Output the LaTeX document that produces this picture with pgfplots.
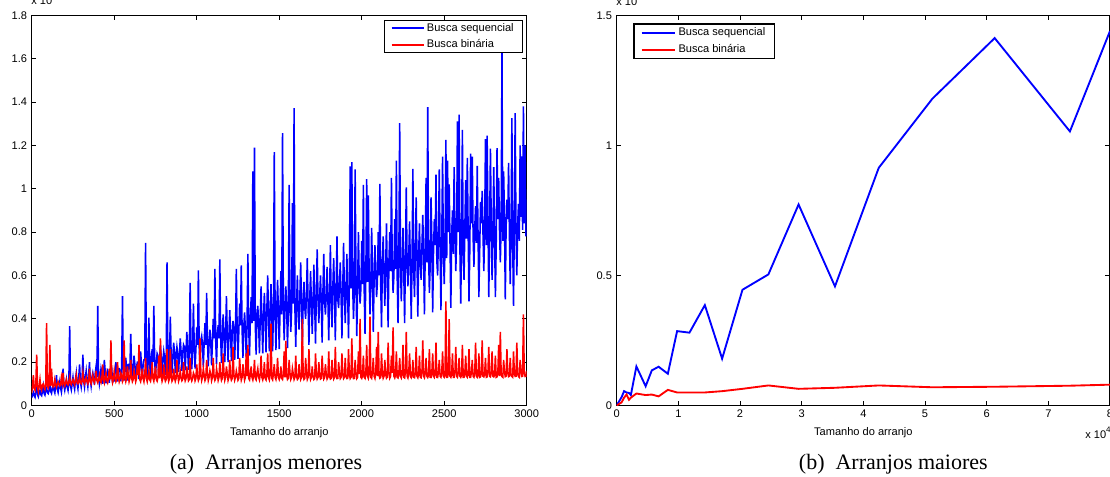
\documentclass[border=0pt]{standalone}
\usepackage{pgfplots}
\pgfplotsset{compat=1.18}
\usepackage{pgfplotstable}
\usepackage{fontspec}
\setmainfont{Liberation Sans}
\newfontfamily\capfont{Liberation Serif}

\pgfplotstableread[row sep=\\]{
x b r\\
0 0.035 0.06\\ 5 0.05 0.09\\ 10 0.06 0.14\\ 15 0.045 0.08\\ 20 0.038 0.07\\ 25 0.07 0.10\\ 30 0.13 0.235\\ 35 0.05 0.085\\ 40 0.04 0.065\\ 45 0.06 0.09\\ 50 0.07 0.12\\ 55 0.05 0.08\\ 60 0.045 0.07\\ 65 0.065 0.095\\ 70 0.09 0.10\\ 75 0.055 0.085\\ 80 0.048 0.075\\ 85 0.07 0.10\\ 90 0.08 0.38\\ 95 0.06 0.09\\
100 0.055 0.08\\ 105 0.07 0.095\\ 110 0.10 0.28\\ 115 0.065 0.09\\ 120 0.056 0.17\\ 125 0.08 0.10\\ 130 0.09 0.085\\ 135 0.07 0.09\\ 140 0.058 0.12\\ 145 0.09 0.10\\ 150 0.14 0.085\\ 155 0.075 0.095\\ 160 0.06 0.11\\ 165 0.085 0.10\\ 170 0.11 0.09\\ 175 0.08 0.095\\ 180 0.062 0.13\\ 185 0.10 0.105\\ 190 0.17 0.15\\ 195 0.09 0.10\\
200 0.07 0.09\\ 205 0.095 0.105\\ 210 0.12 0.12\\ 215 0.085 0.10\\ 220 0.07 0.095\\ 225 0.11 0.11\\ 230 0.366 0.13\\ 235 0.09 0.10\\ 240 0.072 0.095\\ 245 0.10 0.11\\ 250 0.13 0.12\\ 255 0.095 0.105\\ 260 0.075 0.095\\ 265 0.12 0.115\\ 270 0.15 0.14\\ 275 0.10 0.105\\ 280 0.078 0.10\\ 285 0.13 0.11\\ 290 0.19 0.13\\ 295 0.11 0.105\\
300 0.085 0.10\\ 305 0.12 0.115\\ 310 0.235 0.15\\ 315 0.11 0.11\\ 320 0.085 0.10\\ 325 0.13 0.12\\ 330 0.16 0.13\\ 335 0.115 0.11\\ 340 0.088 0.10\\ 345 0.14 0.115\\ 350 0.20 0.17\\ 355 0.12 0.11\\ 360 0.09 0.10\\ 365 0.13 0.12\\ 370 0.15 0.14\\ 375 0.125 0.115\\ 380 0.095 0.105\\ 385 0.15 0.125\\ 390 0.18 0.16\\ 395 0.13 0.115\\
400 0.46 0.105\\ 405 0.14 0.12\\ 410 0.10 0.14\\ 415 0.13 0.115\\ 420 0.17 0.105\\ 425 0.15 0.125\\ 430 0.10 0.19\\ 435 0.135 0.12\\ 440 0.21 0.105\\ 445 0.16 0.13\\ 450 0.102 0.15\\ 455 0.14 0.115\\ 460 0.16 0.105\\ 465 0.15 0.125\\ 470 0.105 0.17\\ 475 0.145 0.12\\ 480 0.19 0.30\\ 485 0.17 0.13\\ 490 0.105 0.105\\ 495 0.15 0.12\\
500 0.11 0.16\\ 505 0.16 0.13\\ 510 0.20 0.11\\ 515 0.15 0.12\\ 520 0.11 0.20\\ 525 0.17 0.135\\ 530 0.17 0.11\\ 535 0.155 0.125\\ 540 0.112 0.15\\ 545 0.18 0.14\\ 550 0.505 0.11\\ 555 0.16 0.12\\ 560 0.115 0.30\\ 565 0.17 0.13\\ 570 0.22 0.11\\ 575 0.165 0.125\\ 580 0.115 0.18\\ 585 0.19 0.14\\ 590 0.19 0.11\\ 595 0.17 0.125\\
600 0.33 0.21\\ 605 0.18 0.13\\ 610 0.12 0.11\\ 615 0.17 0.12\\ 620 0.23 0.16\\ 625 0.19 0.135\\ 630 0.12 0.11\\ 635 0.175 0.125\\ 640 0.20 0.19\\ 645 0.20 0.14\\ 650 0.122 0.28\\ 655 0.18 0.12\\ 660 0.25 0.11\\ 665 0.19 0.13\\ 670 0.125 0.17\\ 675 0.185 0.125\\ 680 0.21 0.11\\ 685 0.21 0.14\\ 690 0.75 0.22\\ 695 0.19 0.125\\
700 0.13 0.11\\ 705 0.20 0.13\\ 710 0.405 0.16\\ 715 0.19 0.12\\ 720 0.13 0.112\\ 725 0.22 0.135\\ 730 0.26 0.20\\ 735 0.20 0.125\\ 740 0.46 0.112\\ 745 0.21 0.14\\ 750 0.132 0.18\\ 755 0.20 0.12\\ 760 0.24 0.112\\ 765 0.23 0.13\\ 770 0.135 0.23\\ 775 0.21 0.125\\ 780 0.28 0.31\\ 785 0.22 0.14\\ 790 0.138 0.112\\ 795 0.21 0.125\\
800 0.25 0.19\\ 805 0.22 0.13\\ 810 0.14 0.112\\ 815 0.21 0.12\\ 820 0.66 0.26\\ 825 0.24 0.135\\ 830 0.145 0.112\\ 835 0.22 0.125\\ 840 0.41 0.26\\ 845 0.23 0.14\\ 850 0.148 0.112\\ 855 0.22 0.12\\ 860 0.29 0.17\\ 865 0.25 0.13\\ 870 0.15 0.112\\ 875 0.23 0.125\\ 880 0.27 0.21\\ 885 0.24 0.14\\ 890 0.155 0.112\\ 895 0.23 0.125\\
900 0.31 0.16\\ 905 0.25 0.13\\ 910 0.16 0.114\\ 915 0.24 0.12\\ 920 0.28 0.20\\ 925 0.27 0.135\\ 930 0.162 0.114\\ 935 0.25 0.125\\ 940 0.34 0.18\\ 945 0.26 0.14\\ 950 0.165 0.114\\ 955 0.25 0.12\\ 960 0.566 0.22\\ 965 0.28 0.13\\ 970 0.168 0.114\\ 975 0.26 0.125\\ 980 0.47 0.15\\ 985 0.27 0.14\\ 990 0.17 0.114\\ 995 0.26 0.125\\
1000 0.36 0.19\\ 1005 0.28 0.135\\ 1010 0.623 0.115\\ 1015 0.27 0.125\\ 1020 0.175 0.31\\ 1025 0.30 0.145\\ 1030 0.32 0.115\\ 1035 0.28 0.13\\ 1040 0.178 0.17\\ 1045 0.29 0.14\\ 1050 0.38 0.115\\ 1055 0.28 0.125\\ 1060 0.52 0.21\\ 1065 0.31 0.15\\ 1070 0.18 0.115\\ 1075 0.29 0.13\\ 1080 0.35 0.16\\ 1085 0.30 0.145\\ 1090 0.185 0.115\\ 1095 0.29 0.13\\
1100 0.40 0.22\\ 1105 0.31 0.135\\ 1110 0.63 0.116\\ 1115 0.30 0.125\\ 1120 0.19 0.17\\ 1125 0.33 0.145\\ 1130 0.37 0.116\\ 1135 0.31 0.13\\ 1140 0.674 0.20\\ 1145 0.32 0.14\\ 1150 0.195 0.116\\ 1155 0.31 0.125\\ 1160 0.42 0.24\\ 1165 0.34 0.15\\ 1170 0.20 0.116\\ 1175 0.32 0.13\\ 1180 0.505 0.18\\ 1185 0.33 0.145\\ 1190 0.20 0.116\\ 1195 0.32 0.13\\
1200 0.44 0.21\\ 1205 0.34 0.135\\ 1210 0.205 0.117\\ 1215 0.33 0.125\\ 1220 0.39 0.27\\ 1225 0.36 0.145\\ 1230 0.21 0.117\\ 1235 0.34 0.13\\ 1240 0.63 0.16\\ 1245 0.35 0.14\\ 1250 0.215 0.117\\ 1255 0.34 0.125\\ 1260 0.47 0.22\\ 1265 0.37 0.15\\ 1270 0.646 0.117\\ 1275 0.35 0.13\\ 1280 0.22 0.19\\ 1285 0.36 0.145\\ 1290 0.43 0.117\\ 1295 0.35 0.13\\
1300 0.225 0.24\\ 1305 0.37 0.135\\ 1310 0.70 0.28\\ 1315 0.36 0.125\\ 1320 0.23 0.118\\ 1325 0.40 0.145\\ 1330 0.50 0.18\\ 1335 0.38 0.13\\ 1340 1.08 0.118\\ 1345 0.39 0.14\\ 1350 1.19 0.21\\ 1355 0.37 0.125\\ 1360 0.235 0.118\\ 1365 0.41 0.15\\ 1370 0.46 0.17\\ 1375 0.38 0.13\\ 1380 0.24 0.118\\ 1385 0.40 0.145\\ 1390 0.55 0.23\\ 1395 0.39 0.13\\
1400 0.24 0.118\\ 1405 0.41 0.135\\ 1410 0.52 0.20\\ 1415 0.40 0.125\\ 1420 0.245 0.118\\ 1425 0.44 0.145\\ 1430 0.60 0.24\\ 1435 0.42 0.13\\ 1440 0.25 0.118\\ 1445 0.43 0.14\\ 1450 0.56 0.378\\ 1455 0.41 0.125\\ 1460 0.25 0.118\\ 1465 0.45 0.15\\ 1470 1.169 0.19\\ 1475 0.42 0.13\\ 1480 0.255 0.12\\ 1485 0.44 0.145\\ 1490 0.58 0.22\\ 1495 0.43 0.13\\
1500 0.26 0.12\\ 1505 0.44 0.135\\ 1510 0.62 0.18\\ 1515 0.42 0.125\\ 1520 1.257 0.12\\ 1525 0.47 0.145\\ 1530 0.30 0.25\\ 1535 0.45 0.13\\ 1540 0.55 0.298\\ 1545 0.46 0.14\\ 1550 0.265 0.12\\ 1555 0.43 0.125\\ 1560 1.018 0.21\\ 1565 0.48 0.15\\ 1570 0.34 0.12\\ 1575 0.44 0.13\\ 1580 0.934 0.17\\ 1585 0.47 0.145\\ 1590 1.372 0.12\\ 1595 0.45 0.13\\
1600 0.27 0.23\\ 1605 0.46 0.135\\ 1610 0.60 0.12\\ 1615 0.44 0.125\\ 1620 0.35 0.19\\ 1625 0.50 0.145\\ 1630 0.66 0.12\\ 1635 0.47 0.13\\ 1640 0.28 0.40\\ 1645 0.48 0.14\\ 1650 0.57 0.12\\ 1655 0.45 0.125\\ 1660 0.40 0.22\\ 1665 0.51 0.15\\ 1670 0.68 0.12\\ 1675 0.46 0.13\\ 1680 0.28 0.26\\ 1685 0.49 0.145\\ 1690 0.62 0.12\\ 1695 0.47 0.13\\
1700 0.33 0.18\\ 1705 0.48 0.135\\ 1710 0.65 0.12\\ 1715 0.46 0.125\\ 1720 0.285 0.24\\ 1725 0.52 0.145\\ 1730 0.72 0.122\\ 1735 0.49 0.13\\ 1740 0.38 0.20\\ 1745 0.50 0.14\\ 1750 0.60 0.122\\ 1755 0.47 0.125\\ 1760 0.29 0.23\\ 1765 0.53 0.15\\ 1770 0.70 0.122\\ 1775 0.48 0.13\\ 1780 0.42 0.19\\ 1785 0.51 0.145\\ 1790 0.64 0.122\\ 1795 0.49 0.13\\
1800 0.30 0.25\\ 1805 0.50 0.135\\ 1810 0.74 0.122\\ 1815 0.48 0.125\\ 1820 0.36 0.21\\ 1825 0.55 0.145\\ 1830 0.68 0.122\\ 1835 0.51 0.13\\ 1840 0.30 0.27\\ 1845 0.53 0.14\\ 1850 0.78 0.124\\ 1855 0.49 0.125\\ 1860 0.45 0.20\\ 1865 0.56 0.15\\ 1870 0.66 0.124\\ 1875 0.50 0.13\\ 1880 0.31 0.24\\ 1885 0.54 0.145\\ 1890 0.75 0.124\\ 1895 0.52 0.13\\
1900 0.38 0.22\\ 1905 0.53 0.135\\ 1910 0.70 0.124\\ 1915 0.50 0.125\\ 1920 0.31 0.26\\ 1925 0.58 0.145\\ 1930 1.103 0.124\\ 1935 0.54 0.13\\ 1940 1.123 0.31\\ 1945 0.56 0.14\\ 1950 0.40 0.124\\ 1955 0.52 0.125\\ 1960 1.09 0.21\\ 1965 0.60 0.15\\ 1970 0.32 0.124\\ 1975 0.55 0.13\\ 1980 0.80 0.25\\ 1985 0.57 0.145\\ 1990 0.47 0.40\\ 1995 0.54 0.13\\
2000 0.76 0.125\\ 2005 0.56 0.14\\ 2010 1.018 0.23\\ 2015 0.53 0.13\\ 2020 0.33 0.125\\ 2025 0.61 0.15\\ 2030 1.045 0.28\\ 2035 0.57 0.135\\ 2040 0.97 0.125\\ 2045 0.60 0.145\\ 2050 0.42 0.41\\ 2055 0.55 0.13\\ 2060 0.82 0.125\\ 2065 0.63 0.155\\ 2070 0.34 0.22\\ 2075 0.58 0.135\\ 2080 0.74 0.125\\ 2085 0.62 0.15\\ 2090 0.50 0.27\\ 2095 0.57 0.135\\
2100 0.80 0.34\\ 2105 0.60 0.14\\ 2110 1.023 0.126\\ 2115 0.56 0.13\\ 2120 0.36 0.24\\ 2125 0.65 0.15\\ 2130 0.78 0.126\\ 2135 0.61 0.135\\ 2140 0.46 0.21\\ 2145 0.63 0.145\\ 2150 0.84 0.126\\ 2155 0.58 0.13\\ 2160 0.36 0.29\\ 2165 0.67 0.155\\ 2170 0.80 0.126\\ 2175 0.62 0.135\\ 2180 1.05 0.23\\ 2185 0.66 0.15\\ 2190 0.52 0.36\\ 2195 0.60 0.135\\
2200 0.86 0.127\\ 2205 0.63 0.14\\ 2210 1.13 0.25\\ 2215 0.59 0.13\\ 2220 0.38 0.127\\ 2225 0.68 0.15\\ 2230 1.303 0.22\\ 2235 0.64 0.135\\ 2240 0.48 0.127\\ 2245 0.66 0.145\\ 2250 0.82 0.28\\ 2255 0.61 0.13\\ 2260 0.38 0.127\\ 2265 0.70 0.155\\ 2270 1.006 0.34\\ 2275 0.65 0.135\\ 2280 0.55 0.127\\ 2285 0.69 0.15\\ 2290 0.85 0.24\\ 2295 0.63 0.135\\
2300 0.40 0.128\\ 2305 0.66 0.14\\ 2310 1.092 0.21\\ 2315 0.62 0.13\\ 2320 0.50 0.128\\ 2325 0.72 0.15\\ 2330 0.96 0.27\\ 2335 0.67 0.135\\ 2340 0.41 0.128\\ 2345 0.70 0.145\\ 2350 0.84 0.23\\ 2355 0.64 0.13\\ 2360 0.58 0.128\\ 2365 0.74 0.155\\ 2370 0.88 0.30\\ 2375 0.68 0.135\\ 2380 0.42 0.128\\ 2385 0.72 0.15\\ 2390 1.05 0.22\\ 2395 0.66 0.135\\
2400 1.377 0.129\\ 2405 0.70 0.14\\ 2410 0.52 0.26\\ 2415 0.65 0.13\\ 2420 0.96 0.129\\ 2425 0.76 0.15\\ 2430 0.43 0.24\\ 2435 0.71 0.135\\ 2440 0.86 0.129\\ 2445 0.74 0.145\\ 2450 1.065 0.29\\ 2455 0.67 0.13\\ 2460 0.60 0.129\\ 2465 0.78 0.155\\ 2470 1.09 0.21\\ 2475 0.72 0.135\\ 2480 0.44 0.13\\ 2485 0.76 0.15\\ 2490 1.149 0.25\\ 2495 0.70 0.135\\
2500 0.56 0.13\\ 2505 0.74 0.14\\ 2510 1.226 0.48\\ 2515 0.68 0.13\\ 2520 1.13 0.13\\ 2525 0.80 0.15\\ 2530 1.02 0.398\\ 2535 0.75 0.135\\ 2540 0.45 0.13\\ 2545 0.78 0.145\\ 2550 0.90 0.24\\ 2555 0.70 0.13\\ 2560 1.10 0.13\\ 2565 0.82 0.155\\ 2570 0.62 0.27\\ 2575 0.76 0.135\\ 2580 1.311 0.13\\ 2585 0.80 0.15\\ 2590 1.342 0.22\\ 2595 0.73 0.135\\
2600 0.47 0.13\\ 2605 0.76 0.14\\ 2610 1.272 0.28\\ 2615 0.70 0.13\\ 2620 0.58 0.13\\ 2625 0.82 0.15\\ 2630 1.04 0.23\\ 2635 0.77 0.135\\ 2640 1.143 0.13\\ 2645 0.80 0.145\\ 2650 0.48 0.26\\ 2655 0.72 0.13\\ 2660 1.162 0.13\\ 2665 0.84 0.155\\ 2670 1.149 0.21\\ 2675 0.78 0.135\\ 2680 0.64 0.13\\ 2685 0.82 0.15\\ 2690 0.92 0.29\\ 2695 0.75 0.135\\
2700 1.106 0.13\\ 2705 0.78 0.14\\ 2710 0.50 0.24\\ 2715 0.72 0.13\\ 2720 0.94 0.132\\ 2725 0.84 0.15\\ 2730 0.99 0.30\\ 2735 0.79 0.135\\ 2740 0.62 0.132\\ 2745 0.82 0.145\\ 2750 1.229 0.22\\ 2755 0.74 0.13\\ 2760 1.245 0.132\\ 2765 0.86 0.155\\ 2770 0.50 0.27\\ 2775 0.80 0.135\\ 2780 1.185 0.132\\ 2785 0.84 0.15\\ 2790 0.58 0.25\\ 2795 0.77 0.135\\
2800 1.10 0.132\\ 2805 0.80 0.14\\ 2810 0.50 0.23\\ 2815 0.74 0.13\\ 2820 1.188 0.132\\ 2825 0.86 0.15\\ 2830 1.05 0.28\\ 2835 0.81 0.135\\ 2840 0.66 0.34\\ 2845 0.84 0.145\\ 2850 1.626 0.133\\ 2855 0.76 0.13\\ 2860 1.08 0.21\\ 2865 0.88 0.155\\ 2870 0.49 0.133\\ 2875 0.82 0.135\\ 2880 0.95 0.26\\ 2885 0.86 0.15\\ 2890 1.12 0.133\\ 2895 0.79 0.135\\
2900 0.56 0.22\\ 2905 0.80 0.14\\ 2910 1.326 0.134\\ 2915 0.74 0.13\\ 2920 0.46 0.25\\ 2925 0.85 0.15\\ 2930 1.349 0.134\\ 2935 0.80 0.135\\ 2940 0.60 0.29\\ 2945 0.83 0.145\\ 2950 0.93 0.134\\ 2955 0.76 0.13\\ 2960 1.2 0.21\\ 2965 0.87 0.155\\ 2970 1.15 0.134\\ 2975 0.81 0.135\\ 2980 1.38 0.42\\ 2985 0.84 0.15\\ 2990 1.2 0.134\\ 2995 0.78 0.135\\
3000 0.95 0.16\\
}\smalldata

\pgfplotstableread[row sep=\\]{
x b r\\
0 0 0\\
0.08 0.032 0.012\\
0.12 0.055 0.03\\
0.16 0.05 0.042\\
0.20 0.048 0.022\\
0.23 0.04 0.03\\
0.32 0.15 0.046\\
0.47 0.074 0.04\\
0.57 0.135 0.042\\
0.68 0.149 0.035\\
0.83 0.122 0.06\\
0.98 0.286 0.05\\
1.18 0.28 0.05\\
1.43 0.386 0.05\\
1.71 0.18 0.055\\
2.04 0.445 0.064\\
2.46 0.504 0.077\\
2.95 0.773 0.064\\
3.54 0.458 0.068\\
4.25 0.914 0.077\\
5.12 1.18 0.07\\
6.13 1.413 0.072\\
7.35 1.054 0.076\\
8.00 1.44 0.08\\
}\bigdata

\pgfplotsset{
  mstyle/.style={
    scale only axis,
    axis line style={line width=1pt},
    tick align=inside,
    xtick pos=both, ytick pos=both,
    major tick length=3.5pt,
    every tick/.style={black, line width=0.5pt},
    tick label style={font=\fontsize{8.3}{10}\selectfont},
    label style={font=\fontsize{8.3}{10}\selectfont},
    /pgf/number format/assume math mode=true,
    /pgf/number format/1000 sep={},
    scaled ticks=false,
    legend cell align=left,
    legend style={font=\fontsize{8.3}{10}\selectfont, draw, line width=1pt,
      inner xsep=4.5pt, inner ysep=1pt},
  }
}

\begin{document}
\begin{tikzpicture}
\begin{axis}[mstyle,
  at={(23.8pt,52.9pt)}, anchor=south west,
  width=371.25pt, height=292.5pt,
  xmin=0, xmax=3000, ymin=0, ymax=1.8,
  xtick={0,500,1000,1500,2000,2500,3000},
  ytick={0,0.2,0.4,0.6,0.8,1,1.2,1.4,1.6,1.8},
  xlabel={Tamanho do arranjo},
  legend image code/.code={\draw[#1, line width=1.1pt] (0pt,0pt) -- (24pt,0pt);},
  legend style={at={(0.9925,0.989)}, anchor=north east, row sep=1pt, inner ysep=0pt},
]
\addplot[draw=blue, line width=1.15pt] table[x=x, y=b] {\smalldata};
\addlegendentry{Busca sequencial}
\addplot[draw=red, line width=1.15pt] table[x=x, y=r] {\smalldata};
\addlegendentry{Busca binária}
\end{axis}

\begin{axis}[mstyle,
  at={(462.5pt,52.9pt)}, anchor=south west,
  width=370pt, height=292.5pt,
  xmin=0, xmax=8, ymin=0, ymax=1.5,
  xtick={0,1,2,3,4,5,6,7,8},
  ytick={0,0.5,1,1.5},
  xlabel={Tamanho do arranjo},
  legend image code/.code={\draw[#1, line width=1.4pt] (0pt,0pt) -- (25pt,0pt);},
  legend style={at={(0.0337,0.980)}, anchor=north west, row sep=1pt, inner xsep=5pt},
]
\addplot[draw=blue, line width=1.4pt] table[x=x, y=b] {\bigdata};
\addlegendentry{Busca sequencial}
\addplot[draw=red, line width=1.4pt] table[x=x, y=r] {\bigdata};
\addlegendentry{Busca binária}
\end{axis}

\node[anchor=base west, inner sep=0pt, font=\fontsize{8.3}{10}\selectfont] at (23.25pt,353.5pt) {x 10\raisebox{4pt}{\fontsize{6}{6}\selectfont -5}};
\node[anchor=base west, inner sep=0pt, font=\fontsize{8.3}{10}\selectfont] at (462pt,353pt) {x 10\raisebox{4pt}{\fontsize{6}{6}\selectfont -3}};
\node[anchor=base west, inner sep=0pt, font=\fontsize{8.3}{10}\selectfont] at (813.75pt,28.5pt) {x 10\raisebox{4pt}{\fontsize{6}{6}\selectfont 4}};

\node[font=\capfont\fontsize{16.5}{18}\selectfont] at (199.5pt,9pt) {(a)\hspace{0.5em}Arranjos menores};
\node[font=\capfont\fontsize{16.5}{18}\selectfont] at (670pt,9pt) {(b)\hspace{0.5em}Arranjos maiores};

\pgfresetboundingbox
\useasboundingbox (0,0) rectangle (832.5pt,357pt);
\end{tikzpicture}
\end{document}
